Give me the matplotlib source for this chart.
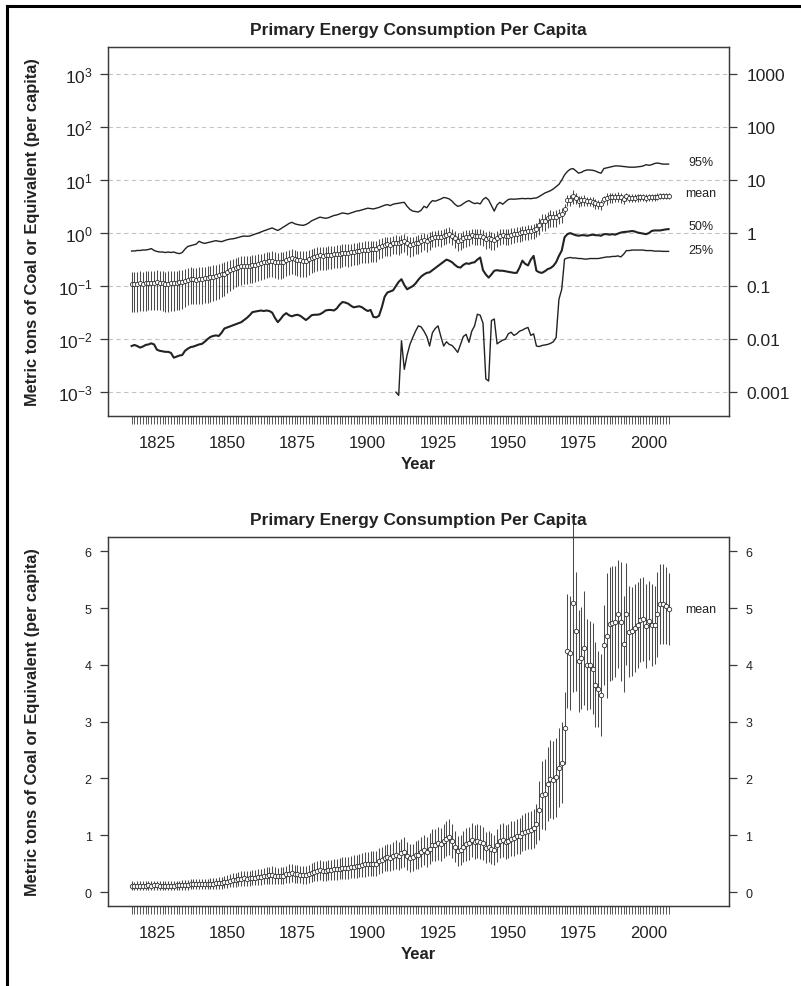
import numpy as np
import matplotlib
matplotlib.use("Agg")
import matplotlib.pyplot as plt
from matplotlib.lines import Line2D
from matplotlib.ticker import NullLocator

plt.rcParams['font.family'] = ['Liberation Sans', 'DejaVu Sans']
plt.rcParams['mathtext.fontset'] = 'custom'
plt.rcParams['mathtext.rm'] = 'Liberation Sans'
plt.rcParams['mathtext.it'] = 'Liberation Sans:italic'
plt.rcParams['mathtext.bf'] = 'Liberation Sans:bold'

# ---------------- data ----------------
years = np.arange(1816, 2008)

mean = np.array([
    0.110, 0.108, 0.110, 0.112, 0.111, 0.113, 0.115, 0.114, 0.116, 0.117,
    0.114, 0.112, 0.110, 0.111, 0.113, 0.112, 0.115, 0.118, 0.120, 0.126,
    0.132, 0.135, 0.134, 0.133, 0.135, 0.136, 0.140, 0.143, 0.147, 0.150,
    0.155, 0.160, 0.166, 0.172, 0.185, 0.198, 0.210, 0.220, 0.228, 0.236,
    0.240, 0.238, 0.244, 0.250, 0.252, 0.262, 0.270, 0.280, 0.290, 0.296,
    0.302, 0.290, 0.280, 0.285, 0.290, 0.310, 0.325, 0.332, 0.318, 0.312,
    0.305, 0.300, 0.302, 0.320, 0.340, 0.355, 0.368, 0.380, 0.372, 0.378,
    0.385, 0.392, 0.400, 0.404, 0.410, 0.420, 0.430, 0.425, 0.435, 0.448,
    0.455, 0.465, 0.480, 0.485, 0.490, 0.500, 0.500, 0.500, 0.550, 0.570,
    0.600, 0.610, 0.600, 0.640, 0.660, 0.640, 0.680, 0.700, 0.640, 0.600,
    0.610, 0.650, 0.660, 0.700, 0.740, 0.700, 0.760, 0.820, 0.830, 0.860,
    0.840, 0.900, 0.940, 0.970, 0.900, 0.800, 0.720, 0.740, 0.800, 0.840,
    0.860, 0.920, 0.880, 0.900, 0.880, 0.860, 0.780, 0.800, 0.760, 0.740,
    0.820, 0.900, 0.920, 0.880, 0.900, 0.940, 0.950, 0.980, 0.990, 1.040,
    1.060, 1.080, 1.100, 1.120, 1.200, 1.440, 1.710, 1.720, 1.900, 1.990,
    1.970, 2.020, 2.190, 2.280, 2.890, 4.240, 4.210, 5.080, 4.590, 4.070,
    4.120, 4.300, 4.000, 4.000, 3.930, 3.650, 3.570, 3.470, 4.350, 4.510,
    4.720, 4.740, 4.760, 4.890, 4.760, 4.370, 4.900, 4.580, 4.590, 4.650,
    4.700, 4.790, 4.810, 4.680, 4.780, 4.700, 4.700, 4.890, 5.070, 5.070,
    5.040, 4.980])

err = np.array([
    0.077, 0.076, 0.078, 0.078, 0.077, 0.079, 0.080, 0.079, 0.080, 0.081,
    0.079, 0.078, 0.077, 0.078, 0.079, 0.078, 0.080, 0.082, 0.083, 0.085,
    0.088, 0.090, 0.089, 0.088, 0.090, 0.090, 0.092, 0.094, 0.096, 0.098,
    0.100, 0.102, 0.105, 0.108, 0.112, 0.116, 0.120, 0.123, 0.126, 0.129,
    0.130, 0.129, 0.132, 0.134, 0.135, 0.138, 0.141, 0.145, 0.148, 0.150,
    0.152, 0.148, 0.145, 0.147, 0.150, 0.156, 0.160, 0.162, 0.158, 0.156,
    0.154, 0.152, 0.153, 0.158, 0.164, 0.168, 0.172, 0.176, 0.174, 0.176,
    0.178, 0.180, 0.183, 0.185, 0.188, 0.191, 0.194, 0.192, 0.196, 0.200,
    0.202, 0.205, 0.210, 0.212, 0.214, 0.216, 0.216, 0.217, 0.225, 0.230,
    0.236, 0.240, 0.238, 0.245, 0.250, 0.246, 0.255, 0.260, 0.248, 0.240,
    0.242, 0.250, 0.252, 0.260, 0.268, 0.260, 0.272, 0.282, 0.285, 0.290,
    0.287, 0.297, 0.305, 0.310, 0.298, 0.280, 0.265, 0.268, 0.280, 0.287,
    0.290, 0.300, 0.294, 0.297, 0.294, 0.290, 0.276, 0.280, 0.272, 0.268,
    0.283, 0.297, 0.300, 0.294, 0.297, 0.305, 0.307, 0.312, 0.314, 0.322,
    0.326, 0.330, 0.334, 0.338, 0.350, 0.520, 0.600, 0.620, 0.650, 0.680,
    0.690, 0.700, 0.700, 0.710, 0.640, 1.000, 1.000, 1.550, 1.050, 0.900,
    0.900, 1.000, 0.800, 0.780, 0.800, 0.750, 0.670, 0.720, 0.700, 1.100,
    1.000, 1.000, 0.980, 0.950, 1.050, 0.850, 0.900, 0.800, 0.780, 0.780,
    0.760, 0.740, 0.740, 0.740, 0.700, 0.720, 0.680, 0.750, 0.700, 0.700,
    0.680, 0.640])

p95 = np.array([
    0.46, 0.46, 0.47, 0.47, 0.48, 0.48, 0.49, 0.51, 0.47, 0.45,
    0.44, 0.44, 0.43, 0.44, 0.43, 0.44, 0.42, 0.41, 0.43, 0.50,
    0.56, 0.58, 0.60, 0.62, 0.70, 0.66, 0.64, 0.66, 0.68, 0.70,
    0.72, 0.70, 0.69, 0.72, 0.75, 0.77, 0.78, 0.80, 0.83, 0.86,
    0.88, 0.87, 0.88, 0.92, 0.96, 1.00, 1.05, 1.10, 1.15, 1.20,
    1.25, 1.18, 1.12, 1.20, 1.30, 1.40, 1.52, 1.60, 1.50, 1.45,
    1.42, 1.40, 1.45, 1.55, 1.70, 1.80, 1.90, 2.00, 1.95, 1.90,
    1.95, 2.05, 2.15, 2.20, 2.30, 2.40, 2.35, 2.30, 2.40, 2.50,
    2.60, 2.65, 2.75, 2.85, 2.95, 2.90, 2.85, 2.95, 3.05, 3.20,
    3.35, 3.45, 3.30, 3.50, 3.60, 3.65, 3.75, 3.80, 3.20, 2.80,
    2.60, 2.55, 2.50, 2.70, 3.20, 3.00, 3.60, 4.10, 4.00, 4.20,
    4.40, 4.70, 4.60, 4.40, 4.00, 3.50, 3.20, 3.30, 3.60, 3.90,
    4.10, 3.80, 3.60, 3.70, 3.55, 4.30, 4.70, 4.20, 3.30, 2.60,
    3.40, 3.80, 3.50, 3.90, 4.30, 4.40, 4.35, 4.40, 4.45, 4.50,
    4.45, 4.50, 4.45, 4.55, 4.60, 4.90, 5.30, 5.70, 6.00, 6.30,
    6.80, 7.50, 8.30, 10.0, 12.5, 14.5, 16.0, 16.5, 15.0, 13.5,
    14.0, 15.0, 15.5, 15.5, 15.3, 14.8, 14.0, 13.5, 16.5, 17.0,
    17.5, 18.0, 18.5, 18.5, 18.3, 18.0, 17.8, 17.5, 17.5, 17.5,
    17.8, 18.0, 18.5, 19.5, 19.0, 19.5, 20.5, 21.0, 20.5, 20.0,
    20.0, 20.0])

p50_log10 = np.array([
    -2.13, -2.11, -2.13, -2.16, -2.14, -2.11, -2.10, -2.08, -2.10, -2.20,
    -2.22, -2.23, -2.24, -2.24, -2.26, -2.35, -2.33, -2.31, -2.30, -2.22,
    -2.18, -2.15, -2.14, -2.12, -2.10, -2.09, -2.05, -2.00, -1.96, -1.94,
    -1.93, -1.94, -1.88, -1.80, -1.78, -1.76, -1.74, -1.72, -1.70, -1.68,
    -1.64, -1.60, -1.55, -1.49, -1.48, -1.47, -1.46, -1.47, -1.46, -1.47,
    -1.50, -1.60, -1.68, -1.62, -1.55, -1.51, -1.55, -1.57, -1.55, -1.54,
    -1.56, -1.60, -1.64, -1.60, -1.55, -1.54, -1.54, -1.53, -1.50, -1.46,
    -1.45, -1.45, -1.46, -1.42, -1.35, -1.30, -1.31, -1.33, -1.37, -1.40,
    -1.39, -1.38, -1.40, -1.44, -1.47, -1.45, -1.58, -1.59, -1.56, -1.40,
    -1.20, -1.12, -1.10, -1.08, -1.00, -0.92, -0.87, -0.98, -1.06, -1.03,
    -1.00, -0.95, -0.88, -0.82, -0.78, -0.75, -0.74, -0.70, -0.66, -0.62,
    -0.58, -0.54, -0.50, -0.52, -0.55, -0.60, -0.64, -0.65, -0.60, -0.57,
    -0.58, -0.56, -0.55, -0.50, -0.46, -0.70, -0.78, -0.84, -0.78, -0.71,
    -0.70, -0.71, -0.71, -0.72, -0.73, -0.74, -0.75, -0.75, -0.65, -0.52,
    -0.58, -0.61, -0.50, -0.43, -0.71, -0.74, -0.75, -0.72, -0.68, -0.66,
    -0.62, -0.55, -0.43, -0.33, -0.08, -0.02, 0.00, -0.02, -0.04, -0.05,
    -0.04, -0.04, -0.05, -0.04, -0.03, -0.04, -0.04, -0.05, -0.02, -0.02,
    -0.03, -0.02, -0.03, -0.01, 0.01, 0.02, 0.025, 0.03, 0.04, 0.03,
    0.01, 0.00, -0.01, -0.02, 0.00, 0.04, 0.05, 0.05, 0.05, 0.06,
    0.07, 0.075])

# 25% quantile (zero before 1910, so not shown on the log axis)
p25_years = np.arange(1910, 2008)
p25_log10 = np.array([
    -3.00, -3.06, -2.03, -2.57, -2.30, -2.10, -1.97, -1.85, -1.75, -1.77,
    -1.85, -1.95, -2.13, -1.88, -1.80, -1.75, -1.95, -2.13, -2.05, -2.10,
    -2.12, -2.18, -2.25, -2.10, -1.95, -1.91, -2.06, -1.85, -1.75, -1.53,
    -1.55, -1.70, -2.75, -2.79, -1.65, -1.62, -2.09, -2.05, -2.02, -2.00,
    -1.90, -1.87, -1.93, -1.90, -1.85, -1.83, -1.80, -1.78, -1.93, -1.90,
    -2.13, -2.14, -2.12, -2.11, -2.10, -2.08, -2.05, -1.97, -1.25, -1.06,
    -0.49, -0.47, -0.46, -0.47, -0.47, -0.48, -0.48, -0.49, -0.49, -0.48,
    -0.48, -0.48, -0.48, -0.47, -0.46, -0.45, -0.45, -0.44, -0.44, -0.43,
    -0.45, -0.40, -0.33, -0.33, -0.32, -0.32, -0.32, -0.32, -0.32, -0.33,
    -0.33, -0.33, -0.34, -0.34, -0.34, -0.345, -0.345, -0.345])

p50 = 10.0 ** p50_log10
p25 = 10.0 ** p25_log10

decade_exps = [-3, -2, -1, 0, 1, 2, 3]
left_log_labels = [r'$10^{%d}$' % e for e in decade_exps]
right_log_labels = ['0.001', '0.01', '0.1', '1', '10', '100', '1000']
year_labels = [1825, 1850, 1875, 1900, 1925, 1950, 1975, 2000]
lin_ticks = [0, 1, 2, 3, 4, 5, 6]

title = 'Primary Energy Consumption Per Capita'
ylab = 'Metric tons of Coal or Equivalent (per capita)'

# ---------------- figure ----------------
W, H = 801, 987
fig = plt.figure(figsize=(W / 100, H / 100), dpi=100)


def rect(l, t, r, b):
    return [l / W, 1 - b / H, (r - l) / W, (b - t) / H]


XLIM = (1807.6, 2028.5)
INK = '#222222'
AX = '#3a3a3a'
BAR = '#4a4a4a'


def style_x(ax):
    ax.set_xlim(*XLIM)
    ax.set_xticks(year_labels)
    ax.set_xticklabels([str(y) for y in year_labels])
    ax.set_xticks(years, minor=True)
    ax.tick_params(axis='x', which='both', direction='out', length=5.8,
                   width=0.6, color=AX, pad=8, labelsize=12, labelcolor=INK)
    for s in ax.spines.values():
        s.set_color(AX)
        s.set_linewidth(0.9)


# ---------- top panel (log scale) ----------
ax1 = fig.add_axes(rect(108, 48, 729, 417))
ax1.set_yscale('log')
ylim1 = (10 ** -3.45, 10 ** 3.51)
ax1.set_ylim(*ylim1)
style_x(ax1)
ax1.set_yticks([10.0 ** e for e in decade_exps])
ax1.set_yticklabels(left_log_labels)
ax1.yaxis.set_minor_locator(NullLocator())
ax1.tick_params(axis='y', direction='out', length=5.8, width=0.9, color=AX,
                pad=5, labelsize=12.5, labelcolor=INK)
for e in decade_exps:
    ax1.axhline(10.0 ** e, color='#c4c4c4', lw=0.8, ls=(0, (4, 3)), zorder=0)

ax1.plot(years, p95, color=INK, lw=1.0)
ax1.plot(years, p50, color=INK, lw=1.5)
ax1.plot(p25_years, p25, color=INK, lw=1.0)
ax1.vlines(years, mean - err, mean + err, color=BAR, lw=0.75, zorder=3)
ax1.plot(years, mean, 'o', ms=3.0, mfc='white', mec='#333333', mew=0.6,
         zorder=4)

ax1r = ax1.twinx()
ax1r.set_yscale('log')
ax1r.set_ylim(*ylim1)
ax1r.set_yticks([10.0 ** e for e in decade_exps])
ax1r.set_yticklabels(right_log_labels)
ax1r.yaxis.set_minor_locator(NullLocator())
ax1r.tick_params(axis='y', direction='out', length=5.8, width=0.9, color=AX,
                 pad=7, labelsize=12.5, labelcolor=INK)
for s in ax1r.spines.values():
    s.set_color(AX)
    s.set_linewidth(0.9)

ax1.text(2014.0, 22.1, '95%', fontsize=9, color=INK, ha='left', va='center')
ax1.text(2012.8, 5.7, 'mean', fontsize=9, color=INK, ha='left', va='center')
ax1.text(2014.0, 1.34, '50%', fontsize=9, color=INK, ha='left', va='center')
ax1.text(2014.0, 0.484, '25%', fontsize=9, color=INK, ha='left', va='center')

# ---------- bottom panel (linear) ----------
ax2 = fig.add_axes(rect(108, 538, 729, 907))
ylim2 = (-0.246, 6.25)
ax2.set_ylim(*ylim2)
style_x(ax2)
ax2.set_yticks(lin_ticks)
ax2.tick_params(axis='y', direction='out', length=5.8, width=0.9, color=AX,
                pad=6, labelsize=9, labelcolor=INK)
ax2.vlines(years, mean - err, mean + err, color=BAR, lw=0.75, zorder=3,
           clip_on=False)
ax2.plot(years, mean, 'o', ms=3.2, mfc='white', mec='#333333', mew=0.6,
         zorder=4)

ax2r = ax2.twinx()
ax2r.set_ylim(*ylim2)
ax2r.set_yticks(lin_ticks)
ax2r.tick_params(axis='y', direction='out', length=5.8, width=0.9, color=AX,
                 pad=6, labelsize=9, labelcolor=INK)
for s in ax2r.spines.values():
    s.set_color(AX)
    s.set_linewidth(0.9)

ax2.text(2012.8, 4.98, 'mean', fontsize=9, color=INK, ha='left', va='center')

# ---------- titles and axis labels ----------
cx = (108 + 729) / 2 / W
for ty in (30, 521):
    fig.text(cx, 1 - ty / H, title, ha='center', va='center',
             fontsize=12.5, fontweight='bold', color=INK)
for yy in (465, 955):
    fig.text(cx, 1 - yy / H, 'Year', ha='center', va='center',
             fontsize=12, fontweight='bold', color=INK)
for yc in ((48 + 417) / 2, (538 + 907) / 2):
    fig.text(33 / W, 1 - yc / H, ylab, rotation=90, ha='center', va='center',
             fontsize=11.8, fontweight='bold', color=INK)

# outer frame (left and top edges)
fig.add_artist(Line2D([7 / W, 7 / W], [0, 1 - 7 / H], color='black', lw=2.2,
                      transform=fig.transFigure))
fig.add_artist(Line2D([7 / W, 1], [1 - 7 / H, 1 - 7 / H], color='black',
                      lw=2.2, transform=fig.transFigure))

fig.savefig('out.png', dpi=100)
